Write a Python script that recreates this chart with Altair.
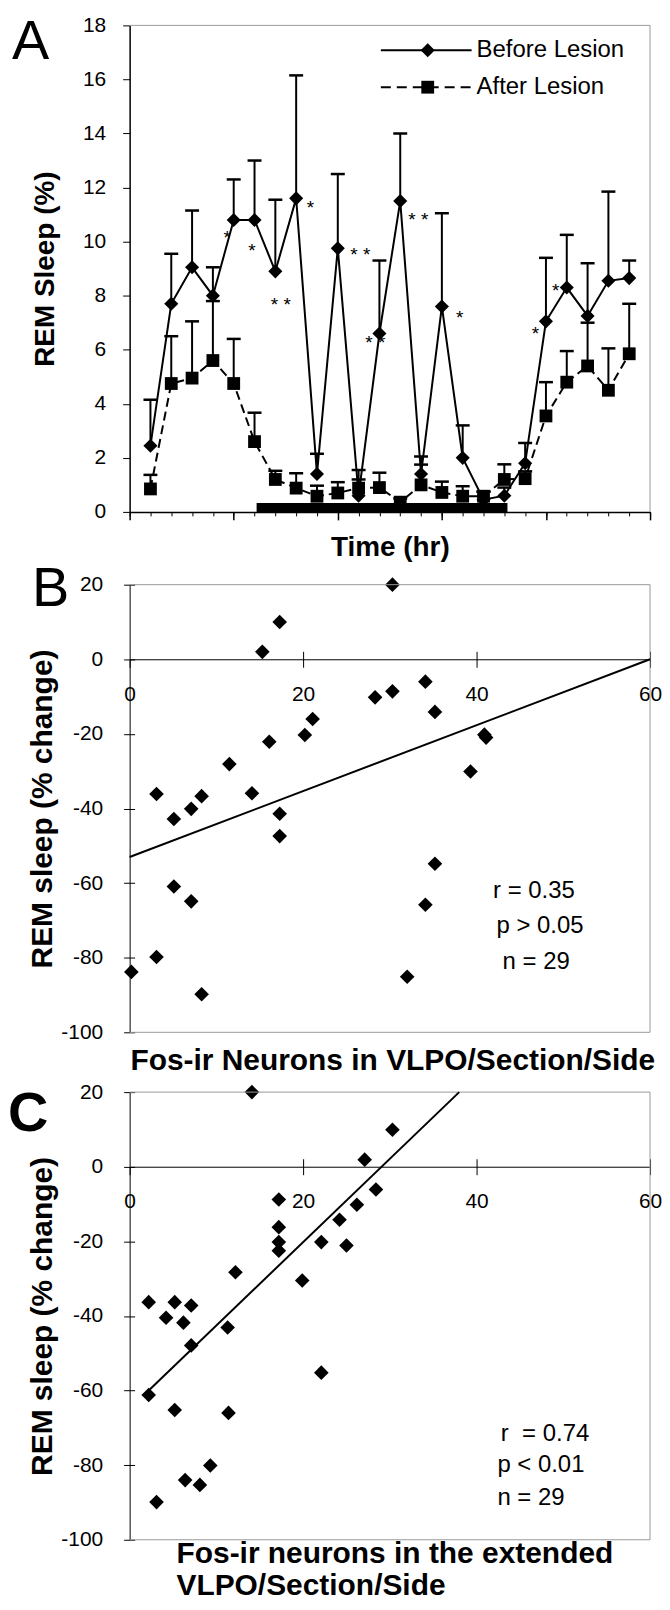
import altair as alt
import pandas as pd

# ---------------- Panel A : REM sleep (%) per hour ----------------
hours = list(range(1, 25))
before = [2.45, 7.7, 9.05, 8.0, 10.8, 10.8, 8.9, 11.6, 1.4, 9.75, 0.6, 6.6,
          11.5, 1.4, 7.6, 2.0, 0.45, 0.6, 1.8, 7.05, 8.3, 7.25, 8.55, 8.65]
before_top = [4.15, 9.55, 11.15, 9.05, 12.3, 13.0, 11.55, 16.15, 2.15, 12.5, 1.55, 9.3,
              14.0, 2.05, 11.05, 3.2, 0.75, 0.9, 2.55, 9.4, 10.25, 9.2, 11.85, 9.3]
after = [0.85, 4.75, 4.95, 5.6, 4.75, 2.6, 1.2, 0.88, 0.58, 0.7, 0.88, 0.9,
         0.36, 1.0, 0.72, 0.58, 0.58, 1.2, 1.23, 3.55, 4.8, 5.4, 4.5, 5.85]
after_top = [1.37, 6.5, 7.05, 7.8, 6.4, 3.67, 1.52, 1.43, 0.97, 1.1, 1.2, 1.45,
             0.5, 1.75, 1.12, 0.95, 0.75, 1.76, 1.5, 4.8, 5.95, 7.0, 6.05, 7.7]
legend_labels = ["Before Lesion", "After Lesion"]
a_x_domain = [0, 25]
a_y_domain = [0, 18]
a_major_ticks = [0, 5, 10, 15, 20, 25]
a_minor_ticks = list(range(0, 26))
a_y_ticks = [0, 2, 4, 6, 8, 10, 12, 14, 16, 18]
dark_hours = [6.1, 18.15]
dark_level = [0.0, 0.33]
star_hour = [4.69, 5.88, 8.68, 7.26, 11.08, 11.8, 13.87, 15.86, 19.5, 20.47]
star_value = [10.31, 9.85, 11.41, 7.83, 9.67, 6.42, 10.98, 7.36, 6.78, 8.37]
star_text = ["*", "*", "*", "* *", "* *", "* *", "* *", "*", "*", "*"]

# ---------------- Panel B ----------------
b_neurons = [30.3, 17.3, 15.3, 34.1, 30.3, 28.3, 35.2, 21.1, 20.2, 40.9,
             41.1, 16.1, 11.5, 39.3, 3.1, 14.1, 8.3, 7.1, 5.1, 17.3,
             17.3, 35.2, 5.1, 7.1, 34.1, 3.1, 0.2, 32.0, 8.3]
b_rem = [20, 10, 2, -6, -8.6, -10.2, -14.1, -16, -20.3, -20.2,
         -21, -22.1, -28.1, -30.1, -36.1, -35.9, -36.7, -40.1, -42.8, -41.4,
         -47.4, -54.8, -60.9, -64.9, -65.8, -79.8, -83.8, -85.1, -89.8]
b_fit_x = [0, 60]
b_fit_y = [-53, 0]
b_stat_text = ["r = 0.35", "p > 0.05", "n = 29"]
b_stat_x = [41.9, 42.3, 43.0]
b_stat_y = [-62.0, -71.6, -81.1]

# ---------------- Panel C ----------------
c_neurons = [14.1, 30.3, 27.1, 28.4, 17.2, 26.2, 24.2, 17.2, 22.1, 17.2,
             25.0, 17.2, 19.9, 12.2, 2.2, 5.2, 7.1, 4.2, 6.2, 11.3,
             7.1, 22.1, 2.2, 5.2, 11.4, 9.3, 6.4, 8.1, 3.1]
c_rem = [20, 9.9, 1.9, -6.1, -8.8, -10.2, -14.2, -16.2, -20.2, -20.2,
         -21.1, -22.5, -30.5, -28.3, -36.3, -36.3, -37.2, -40.5, -41.8, -43.1,
         -47.9, -55.2, -61.2, -65.2, -66.0, -80.1, -84.0, -85.3, -89.9]
c_fit_x = [2.2, 38.0]
c_fit_y = [-60.0, 20.0]
c_stat_text = ["r\u00a0 = 0.74", "p < 0.01", "n = 29"]
c_stat_x = [42.8, 42.4, 42.4]
c_stat_y = [-71.7, -80.0, -88.7]

bc_x_domain = [0, 60]
bc_y_domain = [-100, 20]
bc_x_ticks = [0, 20, 40, 60]
bc_y_ticks = [-100, -80, -60, -40, -20, 0, 20]

# ---------------- styling ----------------
FONT = "Liberation Sans"
BLACK = "#000000"
FRAME = "#9a9a9a"
W = 522
HA, A_EXTRA = 488, 13
HB = 449
HC = 449
GAP = 60
LETTER_SIZE = 56
TICK_FS = 21


def ax(**kw):
    base = dict(labelFont=FONT, labelFontSize=TICK_FS, labelColor=BLACK,
                domainColor=BLACK, tickColor=BLACK, grid=False,
                titleFont=FONT, titleColor=BLACK, titleFontWeight="bold",
                labelFlush=False, labelOverlap=False)
    base.update(kw)
    return alt.Axis(**base)


# ================= Panel A =================
dfA = pd.DataFrame({"hour": hours, "before": before, "before_top": before_top,
                    "after": after, "after_top": after_top})
xA = alt.Scale(domain=a_x_domain, nice=False, zero=False)
yA = alt.Scale(domain=a_y_domain, range=[HA, 0], nice=False, zero=False)

ax_xA = ax(values=a_major_ticks, labels=False, tickSize=8, tickWidth=1.5, domainWidth=1.5,
           offset=-A_EXTRA, title="Time (hr)", titleFontSize=28, titlePadding=13)
ax_xA_minor = alt.Axis(orient="bottom", values=a_minor_ticks, tickSize=4, labels=False,
                       domain=False, title=None, offset=-A_EXTRA, grid=False, tickColor=BLACK)
ax_yA = ax(orient="left", values=a_y_ticks, tickSize=7, labelPadding=17, domainWidth=1.5,
           labelExpr="datum.value + ''",
           title="REM Sleep (%)", titleFontSize=28, titleX=-84, titleY=HA / 2,
           titleAngle=270, titleAlign="center", titleBaseline="middle")

baseA = alt.Chart(dfA)


def XA(field, axis=None):
    return alt.X(field, type="quantitative", scale=xA, axis=axis)


def YA(field, axis=None):
    return alt.Y(field, type="quantitative", scale=yA, axis=axis)


line_before = baseA.mark_line(color=BLACK, strokeWidth=2).encode(
    x=XA("hour", ax_xA), y=YA("before", ax_yA))
line_after = baseA.mark_line(color=BLACK, strokeWidth=2, strokeDash=[9, 5]).encode(
    x=XA("hour"), y=YA("after"))
err_before = baseA.mark_rule(color=BLACK, strokeWidth=2).encode(
    x=XA("hour"), y=YA("before"), y2="before_top:Q")
cap_before = baseA.mark_tick(color=BLACK, orient="horizontal", size=14, thickness=2.5, opacity=1).encode(
    x=XA("hour"), y=YA("before_top"))
err_after = baseA.mark_rule(color=BLACK, strokeWidth=2).encode(
    x=XA("hour"), y=YA("after"), y2="after_top:Q")
cap_after = baseA.mark_tick(color=BLACK, orient="horizontal", size=14, thickness=2.5, opacity=1).encode(
    x=XA("hour"), y=YA("after_top"))
pts_after = baseA.mark_point(shape="square", filled=True, size=165, color=BLACK, opacity=1).encode(
    x=XA("hour"), y=YA("after"))
pts_before = baseA.mark_point(shape="diamond", filled=True, size=200, color=BLACK, opacity=1).encode(
    x=XA("hour"), y=YA("before"))

dark_df = pd.DataFrame({"start": [dark_hours[0]], "end": [dark_hours[1]],
                        "low": [dark_level[0]], "high": [dark_level[1]]})
dark_bar = alt.Chart(dark_df).mark_rect(color=BLACK).encode(
    x=XA("start", ax_xA_minor), x2="end:Q", y=YA("low"), y2="high:Q")

stars_df = pd.DataFrame({"hour": star_hour, "value": star_value, "txt": star_text})
stars = alt.Chart(stars_df).mark_text(font=FONT, fontSize=19, color=BLACK, dy=5).encode(
    x=XA("hour"), y=YA("value"), text="txt:N")

frameA_df = pd.DataFrame({"x0": [a_x_domain[0]], "x1": [a_x_domain[1]],
                          "y0": [a_y_domain[0]], "y1": [a_y_domain[1]]})
frameA_top = alt.Chart(frameA_df).mark_rule(color=FRAME, strokeWidth=1).encode(
    x=XA("x0"), x2="x1:Q", y=YA("y1"))
frameA_right = alt.Chart(frameA_df).mark_rule(color=FRAME, strokeWidth=1).encode(
    x=XA("x1"), y=YA("y0"), y2="y1:Q")

# legend (drawn by hand: line + marker + label)
leg_y = [25, 62]
leg_line_x = (252, 343)
leg_mark_x = 299
leg_text_x = 348
leg_layers = []
for i, (lab, shp, dash) in enumerate(zip(legend_labels, ["diamond", "square"], [[1, 0], [10, 6]])):
    ldf = pd.DataFrame({"label": [lab]})
    lc = alt.Chart(ldf)
    leg_layers.append(lc.mark_rule(color=BLACK, strokeWidth=2, strokeDash=dash).encode(
        x=alt.value(leg_line_x[0]), x2=alt.value(leg_line_x[1]), y=alt.value(leg_y[i])))
    leg_layers.append(lc.mark_point(shape=shp, filled=True, size=200 if shp == "diamond" else 165,
                                    color=BLACK, opacity=1).encode(
        x=alt.value(leg_mark_x), y=alt.value(leg_y[i])))
    leg_layers.append(lc.mark_text(font=FONT, fontSize=24, align="left", baseline="middle",
                                   color=BLACK).encode(
        x=alt.value(leg_text_x), y=alt.value(leg_y[i]), text="label:N"))

letterA = alt.Chart(pd.DataFrame({"t": ["A"]})).mark_text(
    font=FONT, fontSize=LETTER_SIZE, align="left", baseline="alphabetic", color=BLACK).encode(
    x=alt.value(-118), y=alt.value(34), text="t:N")

panelA = alt.layer(
    line_before, frameA_top, frameA_right, line_after, err_before, cap_before,
    err_after, cap_after, dark_bar, pts_after, pts_before, stars, letterA, *leg_layers
).resolve_axis(x="independent", y="independent").properties(width=W, height=HA + A_EXTRA)


# ================= Panels B and C =================
def scatter_panel(xs, ys, fit_x, fit_y, stat_text, stat_x, stat_y, letter, letter_weight,
                  letter_x, letter_y, title, height):
    df = pd.DataFrame({"neurons": xs, "rem": ys})
    sx = alt.Scale(domain=bc_x_domain, nice=False, zero=False)
    sy = alt.Scale(domain=bc_y_domain, nice=False, zero=False)
    zero_px = height * (bc_y_domain[1] - 0) / (bc_y_domain[1] - bc_y_domain[0])
    ax_x = ax(orient="bottom", values=bc_x_ticks, tickSize=8, labelPadding=16,
              offset=-(height - zero_px), title=None, domainWidth=1)
    ax_x_up = alt.Axis(orient="top", values=bc_x_ticks[1:], tickSize=8, labels=False,
                       domain=False, title=None, offset=-zero_px, grid=False, tickColor=BLACK)
    ax_y = ax(orient="left", values=bc_y_ticks, tickSize=6, labelPadding=21, domainWidth=1,
              labelExpr="datum.value + ''",
              title="REM sleep (% change)", titleFontSize=30, titleX=-87,
              titleY=height / 2, titleAngle=270, titleAlign="center", titleBaseline="middle")
    ax_y_in = alt.Axis(orient="right", values=bc_y_ticks, tickSize=5, labels=False,
                       domain=False, title=None, offset=-W, grid=False, tickColor=BLACK)

    def X(field, axis=None):
        return alt.X(field, type="quantitative", scale=sx, axis=axis)

    def Y(field, axis=None):
        return alt.Y(field, type="quantitative", scale=sy, axis=axis)

    frame_df = pd.DataFrame({"x0": [bc_x_domain[0]], "x1": [bc_x_domain[1]],
                             "y0": [bc_y_domain[0]], "y1": [bc_y_domain[1]]})
    fc = alt.Chart(frame_df)
    f_top = fc.mark_rule(color=FRAME, strokeWidth=1).encode(x=X("x0"), x2="x1:Q", y=Y("y1"))
    f_right = fc.mark_rule(color=FRAME, strokeWidth=1).encode(x=X("x1"), y=Y("y0"), y2="y1:Q")
    f_bottom = fc.mark_rule(color=FRAME, strokeWidth=1).encode(x=X("x0"), x2="x1:Q", y=Y("y0"))

    fit = alt.Chart(pd.DataFrame({"fx": fit_x, "fy": fit_y})).mark_line(
        color=BLACK, strokeWidth=2).encode(x=X("fx", ax_x_up), y=Y("fy", ax_y_in))
    pts = alt.Chart(df).mark_point(shape="diamond", filled=True, size=215, color=BLACK,
                                   opacity=1).encode(x=X("neurons", ax_x), y=Y("rem", ax_y))
    stats = alt.Chart(pd.DataFrame({"sx": stat_x, "sy": stat_y, "t": stat_text})).mark_text(
        font=FONT, fontSize=24, align="left", baseline="middle", color=BLACK).encode(
        x=X("sx"), y=Y("sy"), text="t:N")
    let = alt.Chart(pd.DataFrame({"t": [letter]})).mark_text(
        font=FONT, fontSize=LETTER_SIZE, fontWeight=letter_weight, align="left",
        baseline="alphabetic", color=BLACK).encode(
        x=alt.value(letter_x), y=alt.value(letter_y), text="t:N")
    return alt.layer(pts, f_top, f_right, f_bottom, fit, stats, let).resolve_axis(
        x="independent", y="independent").properties(width=W, height=height, title=title)


titleB = alt.TitleParams("Fos-ir Neurons in VLPO/Section/Side", orient="bottom", anchor="middle",
                         frame="group", font=FONT, fontSize=30, fontWeight="bold", color=BLACK,
                         offset=4, dx=3)
titleC = alt.TitleParams(["Fos-ir neurons in the extended", "VLPO/Section/Side"], orient="bottom",
                         anchor="start", frame="group", font=FONT, fontSize=30, fontWeight="bold",
                         color=BLACK, offset=-11, dx=47, lineHeight=32)

panelB = scatter_panel(b_neurons, b_rem, b_fit_x, b_fit_y, b_stat_text, b_stat_x, b_stat_y,
                       "B", "normal", -98, 21, titleB, HB)
panelC = scatter_panel(c_neurons, c_rem, c_fit_x, c_fit_y, c_stat_text, c_stat_x, c_stat_y,
                       "C", "bold", -122, 39, titleC, HC)

chart = alt.vconcat(panelA, panelB, panelC, spacing=GAP, bounds="flush").properties(
    padding={"left": 0, "top": 4, "right": 0, "bottom": 0}
).configure(font=FONT).configure_view(stroke=None)

chart.save("out.html", embed_options={"renderer": "svg", "actions": False})
